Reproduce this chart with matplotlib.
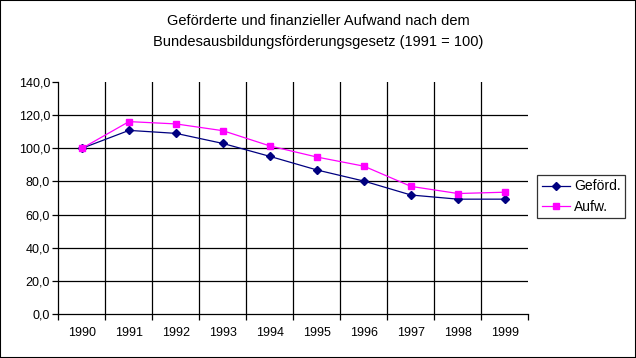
import matplotlib.pyplot as plt
import matplotlib.ticker as mticker
from matplotlib.patches import Rectangle
import numpy as np

plt.rcParams['font.family'] = ['Liberation Sans', 'DejaVu Sans']

years = ['1990', '1991', '1992', '1993', '1994', '1995', '1996', '1997', '1998', '1999']
gefoerd = [100, 110.8, 109.0, 102.9, 95.1, 86.9, 80.2, 71.8, 69.3, 69.3]
aufw = [100, 116.1, 114.7, 110.6, 101.4, 94.7, 89.2, 77.0, 72.7, 73.5]

fig = plt.figure(figsize=(6.36, 3.58), dpi=100)
ax = fig.add_axes([58.5 / 636, 1 - 314 / 358, 470 / 636, 232 / 358])

idx = np.arange(len(years))

# gitter
for k in range(len(years) - 1):
    ax.axvline(k + 0.5, color='black', lw=0.9, zorder=1)
for v in range(20, 140, 20):
    ax.axhline(v, color='black', lw=0.9, zorder=1)

ax.plot(idx, gefoerd, color='#000080', lw=0.9, marker='D', ms=4.5, label='Geförd.', zorder=3)
ax.plot(idx, aufw, color='#FF00FF', lw=0.9, marker='s', ms=5, label='Aufw.', zorder=3)

ax.set_xlim(-0.5, len(years) - 0.5)
ax.set_ylim(0, 140)
ax.set_xticks(idx)
ax.set_xticklabels(years, fontsize=9)
ax.set_xticks(np.arange(-0.5, len(years), 1), minor=True)
ax.tick_params(axis='x', which='major', length=0, pad=9)
ax.tick_params(axis='x', which='minor', length=4, width=0.9, direction='out')
ax.set_yticks(np.arange(0, 141, 20))
ax.yaxis.set_major_formatter(mticker.FuncFormatter(lambda v, p: f'{v:.1f}'.replace('.', ',')))
ax.tick_params(axis='y', length=4, width=0.9, labelsize=9, pad=2)

for s in ['top', 'right']:
    ax.spines[s].set_visible(False)
for s in ['left', 'bottom']:
    ax.spines[s].set_linewidth(0.9)

fig.text(0.5, 1 - 31.5 / 358, 'Geförderte und finanzieller Aufwand nach dem\nBundesausbildungsförderungsgesetz (1991 = 100)',
         ha='center', va='center', fontsize=10.5, linespacing=1.55)

leg = fig.legend(loc='center left', bbox_to_anchor=(537 / 636, 1 - 196.5 / 358), fontsize=10,
                 frameon=True, fancybox=False, edgecolor='black', handlelength=2.0,
                 handletextpad=0.3, borderpad=0.35, labelspacing=0.45, borderaxespad=0)
leg.get_frame().set_linewidth(0.9)

fig.patches.append(Rectangle((0, 0), 1, 1, transform=fig.transFigure, fill=False,
                             edgecolor='black', lw=1.5))

fig.savefig('out.png', dpi=100)
